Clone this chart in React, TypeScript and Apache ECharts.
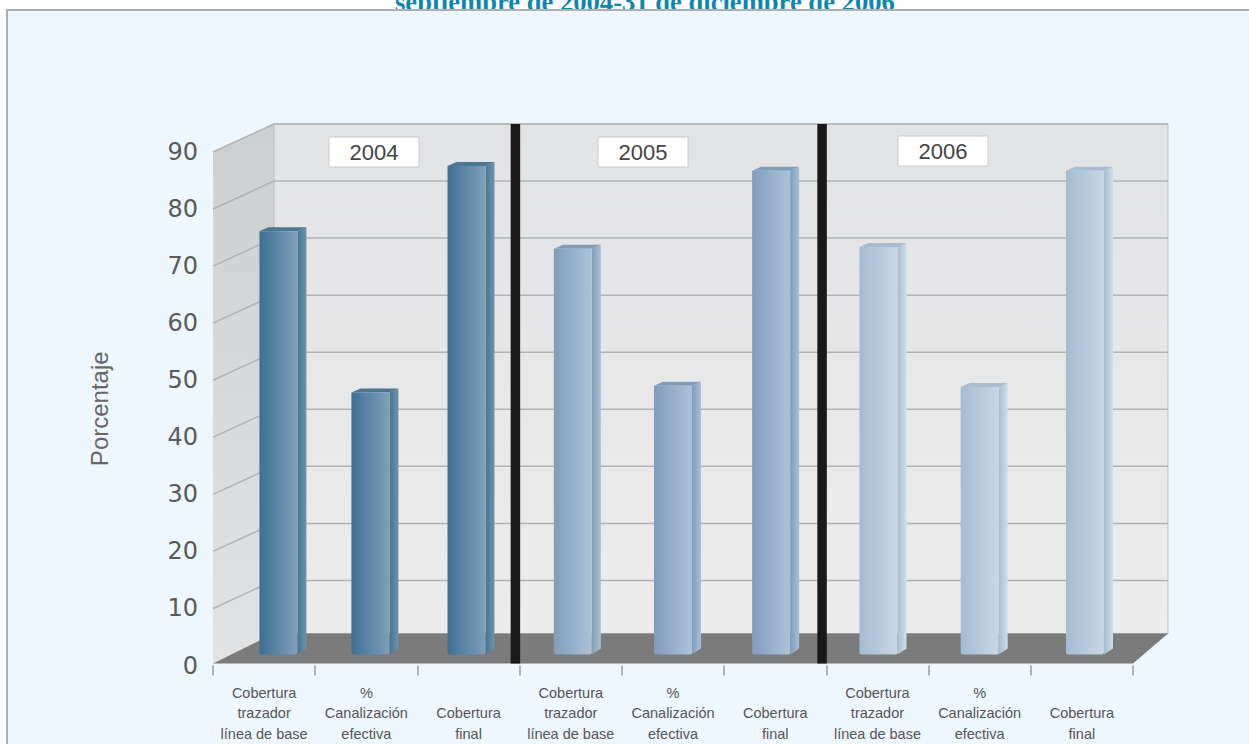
import React, { useEffect, useRef } from "react";
import * as echarts from "echarts";

const titleText = "septiembre de 2004-31 de diciembre de 2006";
const yAxisName = "Porcentaje";
const categories = [
  "Cobertura\ntrazador\nlínea de base", "%\nCanalización\nefectiva", "Cobertura\nfinal",
  "Cobertura\ntrazador\nlínea de base", "%\nCanalización\nefectiva", "Cobertura\nfinal",
  "Cobertura\ntrazador\nlínea de base", "%\nCanalización\nefectiva", "Cobertura\nfinal",
];
const coverage = [74.2, 45.9, 85.6, 71.1, 47.1, 84.8, 71.4, 46.9, 84.8];
const yTicks = [10, 20, 30, 40, 50, 60, 70, 80, 90];
const separators = [3, 6];
const years = ["2004", "2005", "2006"];
const yearOfBar = [0, 0, 0, 1, 1, 1, 2, 2, 2];

// Bar placement within its band, as a fraction of the band width
const barNudge = [0.14, 0.04, -0.02, 0.02, 0, -0.04, 0.01, 0, 0.03];

const palette = [
  { from: "#3f6f93", to: "#7f9fba", sideA: "#47748f", sideB: "#6c93b0", top: "#4a7593" },
  { from: "#7f9dbb", to: "#adc2d8", sideA: "#7e9cb9", sideB: "#a9c0d6", top: "#7f9cb8" },
  { from: "#a3bbd3", to: "#c8d7e6", sideA: "#a4bcd3", sideB: "#d0deea", top: "#a8bdd1" },
];

const DX = 61; // wall depth, horizontal
const DY = 28; // wall depth, vertical
const BAR_W = 38;
const BAR_SIDE = 9;
const BAR_RISE = 4;
const BAR_LIFT = 11;

const poly = (points: number[][], style: any) => ({ type: "polygon", shape: { points }, style });

export default function App() {
  const ref = useRef<HTMLDivElement>(null);
  useEffect(() => {
    const chart = echarts.init(ref.current!, undefined, { renderer: "svg" });

    const frameSeries = {
      type: "custom", z: 3, silent: true, clip: false, data: [[0]],
      renderItem: (_p: any, api: any) => {
        const band = api.size([1, 0])[0];
        const xl = api.coord([0, 0])[0] - band / 2;
        const xr = api.coord([8, 0])[0] + band / 2;
        const y0 = api.coord([0, 0])[1];
        const yT = api.coord([0, 90])[1];
        const floorY = y0 - 2;
        const backR = xr + 35;
        const backY = y0 - 2 - 30;
        return {
          type: "group",
          children: [
            poly([[xl, yT], [xl + DX, yT - DY], [xl + DX, backY], [xl, floorY]], {
              fill: new echarts.graphic.LinearGradient(0, 0, 0, 1, [
                { offset: 0, color: "#cdced0" }, { offset: 1, color: "#e2e3e4" },
              ]),
            }),
            poly([[xl + DX, yT - DY], [backR, yT - DY], [backR, backY], [xl + DX, backY]], {
              fill: new echarts.graphic.LinearGradient(0, 0, 0, 1, [
                { offset: 0, color: "#e2e3e5" }, { offset: 1, color: "#ececec" },
              ]),
              stroke: "#bdbfc1", lineWidth: 1,
            }),
            poly([[xl, floorY], [xl + DX, backY], [backR, backY], [xr, floorY]], { fill: "#7b7b7b" }),
          ],
        };
      },
    };

    const gridSeries = {
      type: "custom", z: 4, silent: true, clip: false, data: yTicks.map((v) => [v]),
      renderItem: (_p: any, api: any) => {
        const band = api.size([1, 0])[0];
        const xl = api.coord([0, 0])[0] - band / 2;
        const xr = api.coord([8, 0])[0] + band / 2;
        const y = api.coord([0, api.value(0)])[1];
        const line = { stroke: "#b1b3b5", lineWidth: 1.5, fill: "none" };
        return {
          type: "group",
          children: [
            { type: "line", shape: { x1: xl, y1: y, x2: xl + DX, y2: y - DY }, style: line },
            { type: "line", shape: { x1: xl + DX, y1: y - DY, x2: xr + 35, y2: y - DY }, style: line },
          ],
        };
      },
    };

    const separatorSeries = {
      type: "custom", z: 5, silent: true, clip: false, data: separators.map((v) => [v]),
      renderItem: (_p: any, api: any) => {
        const band = api.size([1, 0])[0];
        const x = api.coord([api.value(0), 0])[0] - band / 2;
        const y0 = api.coord([0, 0])[1];
        const yT = api.coord([0, 90])[1];
        return {
          type: "rect",
          shape: { x: x - 9, y: yT - DY, width: 9.5, height: y0 - 2 - (yT - DY) },
          style: { fill: "#1a1818" },
        };
      },
    };

    const barSeries = {
      type: "custom", z: 6, clip: false,
      data: coverage.map((v, i) => [i, v]),
      encode: { x: 0, y: 1 },
      renderItem: (_p: any, api: any) => {
        const i = api.value(0);
        const band = api.size([1, 0])[0];
        const c = api.coord([i, api.value(1)]);
        const b = api.coord([i, 0]);
        const cx = c[0] + barNudge[i] * band;
        const l = cx - BAR_W / 2;
        const r = cx + BAR_W / 2;
        const top = c[1] - BAR_LIFT;
        const bot = b[1] - BAR_LIFT;
        const col = palette[yearOfBar[i]];
        return {
          type: "group",
          children: [
            poly([[r, top], [r + BAR_SIDE, top - BAR_RISE], [r + BAR_SIDE, bot - 6], [r, bot]], {
              fill: new echarts.graphic.LinearGradient(0, 0, 1, 0, [
                { offset: 0, color: col.sideA }, { offset: 1, color: col.sideB },
              ]),
            }),
            poly([[l, top], [l + BAR_SIDE, top - BAR_RISE], [r + BAR_SIDE, top - BAR_RISE], [r, top]], { fill: col.top }),
            {
              type: "rect",
              shape: { x: l, y: top, width: BAR_W, height: bot - top, r: [0, 0, 2, 2] },
              style: {
                fill: new echarts.graphic.LinearGradient(0, 0, 1, 0, [
                  { offset: 0, color: col.from }, { offset: 1, color: col.to },
                ]),
              },
            },
          ],
        };
      },
    };

    const yearBox = (label: string, x: number, y: number) => ({
      type: "group", x, y, z: 20,
      children: [
        { type: "rect", z: 20, shape: { x: 0, y: 0, width: 90, height: 30 }, style: { fill: "#ffffff", stroke: "#c9cbcd", lineWidth: 1 } },
        { type: "text", z: 21, x: 45, y: 15, style: { text: label, fill: "#444444", font: "22px 'Liberation Sans'", align: "center", verticalAlign: "middle" } },
      ],
    });

    chart.setOption({
      animation: false,
      backgroundColor: "#ffffff",
      title: {
        text: titleText, left: 395, top: -12, z: 1, padding: 0,
        textStyle: { fontFamily: "'Liberation Serif'", fontWeight: "bold", fontSize: 26.6, color: "#0f86ad" },
      },
      graphic: [
        { type: "rect", z: 2, shape: { x: 7, y: 10, width: 1260, height: 760 }, style: { fill: "#eef7fe", stroke: "#a9b0b8", lineWidth: 2 } },
        yearBox(years[0], 329, 137),
        yearBox(years[1], 598, 137),
        yearBox(years[2], 898, 136),
      ],
      grid: { left: 213, width: 920, top: 152, height: 516, containLabel: false },
      xAxis: {
        type: "category", data: categories, z: 10,
        axisLine: { show: false },
        axisTick: { show: true, alignWithLabel: false, length: 10, lineStyle: { color: "#9a9c9e", width: 1.5 } },
        axisLabel: {
          interval: 0, margin: 17, color: "#555555", fontFamily: "'Liberation Sans'", fontSize: 14.5, lineHeight: 20.5,
          verticalAlign: "top",
          formatter: (s: string) => (s.split("\n").length < 3 ? "\n" + s : s),
        },
      },
      yAxis: {
        type: "value", min: 0, max: 90, interval: 10, z: 10,
        name: yAxisName, nameLocation: "middle", nameGap: 102, nameRotate: 90,
        nameTextStyle: { color: "#666666", fontFamily: "'Liberation Sans'", fontSize: 24 },
        axisLine: { show: false }, axisTick: { show: false }, splitLine: { show: false },
        axisLabel: { margin: 15, color: "#5a5a5a", fontFamily: "'DejaVu Sans'", fontSize: 24 },
      },
      series: [frameSeries, gridSeries, separatorSeries, barSeries],
    });
    return () => chart.dispose();
  }, []);
  return <div ref={ref} style={{ position: "fixed", left: 0, top: 0, width: 1249, height: 744 }} />;
}
